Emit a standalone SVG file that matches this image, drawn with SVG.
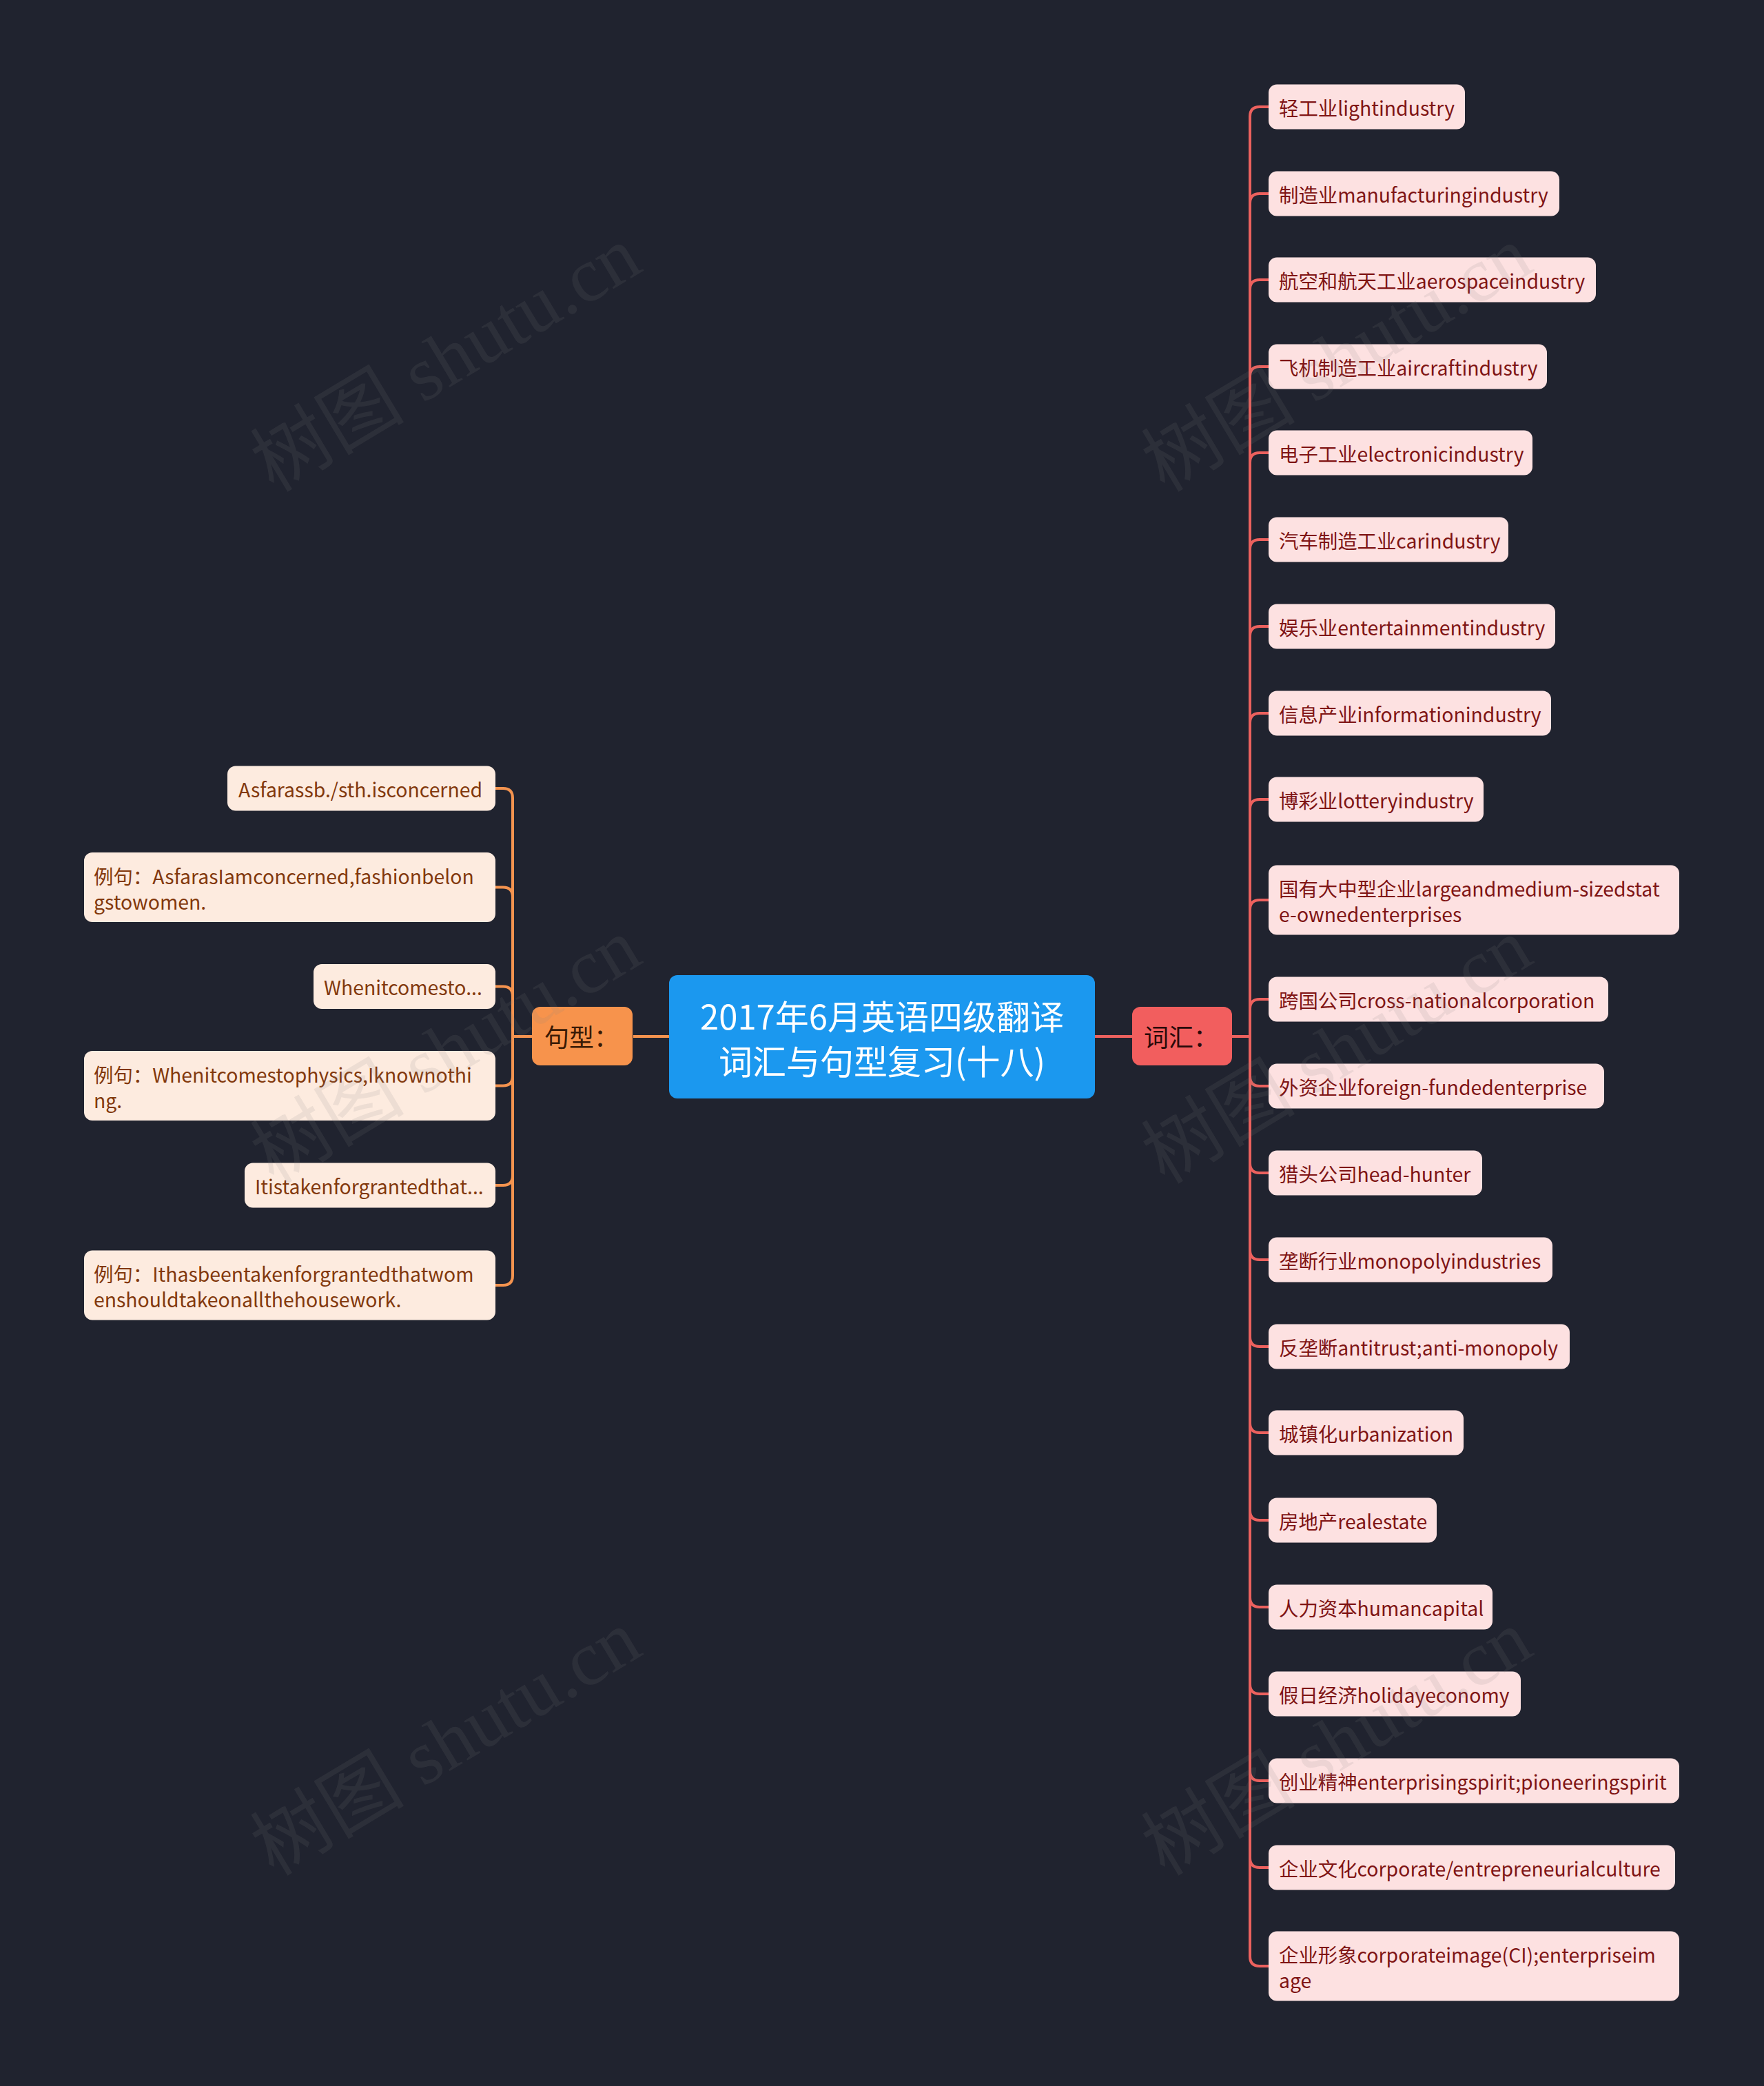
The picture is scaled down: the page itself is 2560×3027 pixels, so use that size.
<svg xmlns="http://www.w3.org/2000/svg" width="2560" height="3027" viewBox="0 0 2560 3027">
<style>
text{font-family:"Noto Sans CJK SC","Noto Sans",sans-serif;}
.vb{fill:#fde1e1;}
.vt{fill:#7f1414;font-size:28.4px;}
.sb{fill:#fdebdf;}
.st{fill:#82380c;font-size:28.4px;}
.cr{fill:none;stroke:#ec615e;stroke-width:4;}
.co{fill:none;stroke:#f4934f;stroke-width:4;}
.wm{font-family:"Liberation Serif","Noto Sans CJK SC",serif;font-size:112px;fill:#808080;fill-opacity:0.13;}
</style>
<rect x="0" y="0" width="2560" height="3027" fill="#20232f"/>
<g id="connectors">
<path class="co" d="M919 1504 H971"/>
<path class="cr" d="M1589 1504 H1643"/>
<path class="co" d="M772 1504 H744"/>
<path class="co" d="M744 1504 V1158 Q744 1144 730 1144 H719"/>
<path class="co" d="M744 1504 V1301.5 Q744 1287.5 730 1287.5 H719"/>
<path class="co" d="M744 1504 V1445.5 Q744 1431.5 730 1431.5 H719"/>
<path class="co" d="M744 1504 V1561.5 Q744 1575.5 730 1575.5 H719"/>
<path class="co" d="M744 1504 V1706 Q744 1720 730 1720 H719"/>
<path class="co" d="M744 1504 V1851 Q744 1865 730 1865 H719"/>
<path class="cr" d="M1788 1504 H1814"/>
<path class="cr" d="M1814 1504 V169 Q1814 155 1828 155 H1841"/>
<path class="cr" d="M1814 1504 V295 Q1814 281 1828 281 H1841"/>
<path class="cr" d="M1814 1504 V420 Q1814 406 1828 406 H1841"/>
<path class="cr" d="M1814 1504 V546 Q1814 532 1828 532 H1841"/>
<path class="cr" d="M1814 1504 V671 Q1814 657 1828 657 H1841"/>
<path class="cr" d="M1814 1504 V797 Q1814 783 1828 783 H1841"/>
<path class="cr" d="M1814 1504 V923 Q1814 909 1828 909 H1841"/>
<path class="cr" d="M1814 1504 V1049 Q1814 1035 1828 1035 H1841"/>
<path class="cr" d="M1814 1504 V1174 Q1814 1160 1828 1160 H1841"/>
<path class="cr" d="M1814 1504 V1320 Q1814 1306 1828 1306 H1841"/>
<path class="cr" d="M1814 1504 V1464 Q1814 1450 1828 1450 H1841"/>
<path class="cr" d="M1814 1504 V1562 Q1814 1576 1828 1576 H1841"/>
<path class="cr" d="M1814 1504 V1688 Q1814 1702 1828 1702 H1841"/>
<path class="cr" d="M1814 1504 V1814 Q1814 1828 1828 1828 H1841"/>
<path class="cr" d="M1814 1504 V1940 Q1814 1954 1828 1954 H1841"/>
<path class="cr" d="M1814 1504 V2065 Q1814 2079 1828 2079 H1841"/>
<path class="cr" d="M1814 1504 V2192 Q1814 2206 1828 2206 H1841"/>
<path class="cr" d="M1814 1504 V2318 Q1814 2332 1828 2332 H1841"/>
<path class="cr" d="M1814 1504 V2444 Q1814 2458 1828 2458 H1841"/>
<path class="cr" d="M1814 1504 V2570 Q1814 2584 1828 2584 H1841"/>
<path class="cr" d="M1814 1504 V2696 Q1814 2710 1828 2710 H1841"/>
<path class="cr" d="M1814 1504 V2839 Q1814 2853 1828 2853 H1841"/>
</g>
<g id="root">
<rect x="971" y="1415" width="618" height="179" rx="12" fill="#1b98ef"/>
<text font-size="49" fill="#ffffff" text-anchor="middle" dominant-baseline="central"><tspan x="1280" y="1472">2017年6月英语四级翻译</tspan><tspan x="1280" y="1537">词汇与句型复习(十八)</tspan></text>
</g>
<g id="vocab">
<rect x="1643" y="1461" width="145" height="85" rx="12" fill="#f25e5e"/>
<text x="1660" y="1503" font-size="36" fill="#2a0a0a" dominant-baseline="central">词汇：</text>
</g>
<g id="pattern">
<rect x="772" y="1461" width="146" height="85" rx="12" fill="#f7934c"/>
<text x="790" y="1503" font-size="36" fill="#3a1a05" dominant-baseline="central">句型：</text>
</g>
<g id="v1"><rect class="vb" x="1841" y="122.5" width="285" height="65" rx="12"/><text class="vt" x="1856" y="155" dominant-baseline="central">轻工业lightindustry</text></g>
<g id="v2"><rect class="vb" x="1841" y="248.5" width="422" height="65" rx="12"/><text class="vt" x="1856" y="281" dominant-baseline="central">制造业manufacturingindustry</text></g>
<g id="v3"><rect class="vb" x="1841" y="373.5" width="475" height="65" rx="12"/><text class="vt" x="1856" y="406" dominant-baseline="central">航空和航天工业aerospaceindustry</text></g>
<g id="v4"><rect class="vb" x="1841" y="499.5" width="404" height="65" rx="12"/><text class="vt" x="1856" y="532" dominant-baseline="central">飞机制造工业aircraftindustry</text></g>
<g id="v5"><rect class="vb" x="1841" y="624.5" width="383" height="65" rx="12"/><text class="vt" x="1856" y="657" dominant-baseline="central">电子工业electronicindustry</text></g>
<g id="v6"><rect class="vb" x="1841" y="750.5" width="348" height="65" rx="12"/><text class="vt" x="1856" y="783" dominant-baseline="central">汽车制造工业carindustry</text></g>
<g id="v7"><rect class="vb" x="1841" y="876.5" width="416" height="65" rx="12"/><text class="vt" x="1856" y="909" dominant-baseline="central">娱乐业entertainmentindustry</text></g>
<g id="v8"><rect class="vb" x="1841" y="1002.5" width="410" height="65" rx="12"/><text class="vt" x="1856" y="1035" dominant-baseline="central">信息产业informationindustry</text></g>
<g id="v9"><rect class="vb" x="1841" y="1127.5" width="312" height="65" rx="12"/><text class="vt" x="1856" y="1160" dominant-baseline="central">博彩业lotteryindustry</text></g>
<g id="v10"><rect class="vb" x="1841" y="1255.5" width="596" height="101" rx="12"/><text class="vt" dominant-baseline="central"><tspan x="1856" y="1288">国有大中型企业largeandmedium-sizedstat</tspan><tspan x="1856" y="1325">e-ownedenterprises</tspan></text></g>
<g id="v11"><rect class="vb" x="1841" y="1417.5" width="493" height="65" rx="12"/><text class="vt" x="1856" y="1450" dominant-baseline="central">跨国公司cross-nationalcorporation</text></g>
<g id="v12"><rect class="vb" x="1841" y="1543.5" width="487" height="65" rx="12"/><text class="vt" x="1856" y="1576" dominant-baseline="central">外资企业foreign-fundedenterprise</text></g>
<g id="v13"><rect class="vb" x="1841" y="1669.5" width="310" height="65" rx="12"/><text class="vt" x="1856" y="1702" dominant-baseline="central">猎头公司head-hunter</text></g>
<g id="v14"><rect class="vb" x="1841" y="1795.5" width="412" height="65" rx="12"/><text class="vt" x="1856" y="1828" dominant-baseline="central">垄断行业monopolyindustries</text></g>
<g id="v15"><rect class="vb" x="1841" y="1921.5" width="437" height="65" rx="12"/><text class="vt" x="1856" y="1954" dominant-baseline="central">反垄断antitrust;anti-monopoly</text></g>
<g id="v16"><rect class="vb" x="1841" y="2046.5" width="283" height="65" rx="12"/><text class="vt" x="1856" y="2079" dominant-baseline="central">城镇化urbanization</text></g>
<g id="v17"><rect class="vb" x="1841" y="2173.5" width="244" height="65" rx="12"/><text class="vt" x="1856" y="2206" dominant-baseline="central">房地产realestate</text></g>
<g id="v18"><rect class="vb" x="1841" y="2299.5" width="325" height="65" rx="12"/><text class="vt" x="1856" y="2332" dominant-baseline="central">人力资本humancapital</text></g>
<g id="v19"><rect class="vb" x="1841" y="2425.5" width="366" height="65" rx="12"/><text class="vt" x="1856" y="2458" dominant-baseline="central">假日经济holidayeconomy</text></g>
<g id="v20"><rect class="vb" x="1841" y="2551.5" width="596" height="65" rx="12"/><text class="vt" x="1856" y="2584" dominant-baseline="central">创业精神enterprisingspirit;pioneeringspirit</text></g>
<g id="v21"><rect class="vb" x="1841" y="2677.5" width="590" height="65" rx="12"/><text class="vt" x="1856" y="2710" dominant-baseline="central">企业文化corporate/entrepreneurialculture</text></g>
<g id="v22"><rect class="vb" x="1841" y="2802.5" width="596" height="101" rx="12"/><text class="vt" dominant-baseline="central"><tspan x="1856" y="2835">企业形象corporateimage(CI);enterpriseim</tspan><tspan x="1856" y="2872">age</tspan></text></g>
<g id="s1"><rect class="sb" x="330" y="1111.5" width="389" height="65" rx="12"/><text class="st" x="346" y="1144" dominant-baseline="central">Asfarassb./sth.isconcerned</text></g>
<g id="s2"><rect class="sb" x="122" y="1237" width="597" height="101" rx="12"/><text class="st" dominant-baseline="central"><tspan x="136" y="1270">例句：AsfarasIamconcerned,fashionbelon</tspan><tspan x="136" y="1307">gstowomen.</tspan></text></g>
<g id="s3"><rect class="sb" x="455" y="1399" width="264" height="65" rx="12"/><text class="st" x="470" y="1431.5" dominant-baseline="central">Whenitcomesto...</text></g>
<g id="s4"><rect class="sb" x="122" y="1525" width="597" height="101" rx="12"/><text class="st" dominant-baseline="central"><tspan x="136" y="1558">例句：Whenitcomestophysics,Iknownothi</tspan><tspan x="136" y="1595">ng.</tspan></text></g>
<g id="s5"><rect class="sb" x="355" y="1687.5" width="364" height="65" rx="12"/><text class="st" x="370" y="1720" dominant-baseline="central">Itistakenforgrantedthat...</text></g>
<g id="s6"><rect class="sb" x="122" y="1814.5" width="597" height="101" rx="12"/><text class="st" dominant-baseline="central"><tspan x="136" y="1847">例句：Ithasbeentakenforgrantedthatwom</tspan><tspan x="136" y="1884">enshouldtakeonallthehousework.</tspan></text></g>
<g id="watermark">
<text class="wm" text-anchor="middle" dominant-baseline="central" transform="translate(647 521) rotate(-31)">树图 shutu.cn</text>
<text class="wm" text-anchor="middle" dominant-baseline="central" transform="translate(1940 521) rotate(-31)">树图 shutu.cn</text>
<text class="wm" text-anchor="middle" dominant-baseline="central" transform="translate(647 1525) rotate(-31)">树图 shutu.cn</text>
<text class="wm" text-anchor="middle" dominant-baseline="central" transform="translate(1940 1525) rotate(-31)">树图 shutu.cn</text>
<text class="wm" text-anchor="middle" dominant-baseline="central" transform="translate(647 2529) rotate(-31)">树图 shutu.cn</text>
<text class="wm" text-anchor="middle" dominant-baseline="central" transform="translate(1940 2529) rotate(-31)">树图 shutu.cn</text>
</g>
</svg>
